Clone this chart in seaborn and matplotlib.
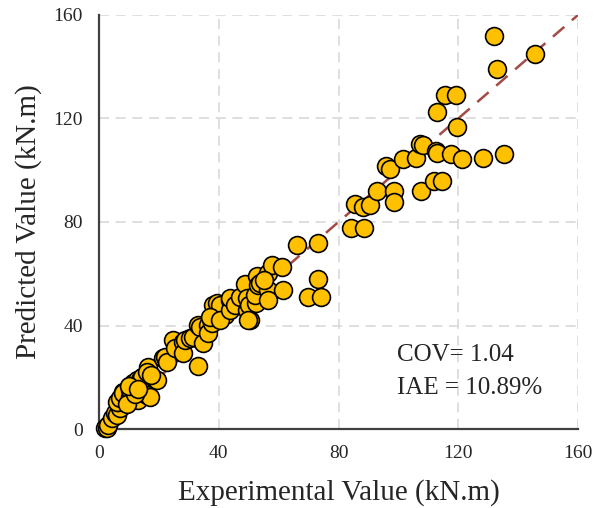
import matplotlib
matplotlib.use("Agg")
import matplotlib.pyplot as plt
import seaborn as sns
import pandas as pd

# Experimental vs predicted moment capacity (kN.m)
experimental = [
    2.0, 2.6, 3.0, 4.2, 5.3, 5.9, 7.0, 6.4, 5.9, 7.0, 8.1, 8.1, 10.4, 10.4,
    11.5, 11.5, 12.6, 13.1, 13.7, 14.3, 14.3, 15.4, 15.9, 16.5, 17.0, 18.7,
    19.3, 9.5, 12.0, 16.0, 10.0, 13.0, 17.5,
    21.5, 22.0, 22.6, 24.8, 25.4, 28.2, 28.2, 28.7, 30.4, 31.5, 33.2, 33.2,
    33.7, 34.8, 36.5, 36.5, 37.6, 38.7, 38.2, 39.3, 41.5, 42.1, 40.4, 37.1,
    40.4, 43.8, 43.8, 43.8, 45.5, 47.0,
    48.8, 49.3, 49.3, 50.4, 50.2, 52.4, 52.1, 52.7, 53.2, 53.8, 56.5, 56.5,
    56.5, 57.7, 61.0, 61.6, 49.9, 55.0,
    66.0, 73.3, 73.0, 69.8, 74.0, 84.1, 88.5, 85.4, 88.3, 90.6, 93.0, 95.7,
    97.2, 98.5, 98.5, 101.4, 105.9, 107.1, 108.2, 107.6, 112.0, 114.6, 112.7,
    113.0, 117.7, 121.1, 128.1, 135.3, 112.8, 115.6, 119.2, 119.6, 131.9,
    145.6, 133.1,
]
predicted = [
    0.5, 0.3, 1.5, 4.1, 6.1, 5.4, 8.0, 10.6, 10.6, 11.9, 14.4, 13.8, 12.5, 15.1,
    16.3, 17.7, 18.9, 11.2, 18.9, 17.0, 20.2, 14.4, 13.1, 24.1, 12.5, 19.5,
    18.9, 9.5, 13.5, 22.0, 16.5, 15.5, 21.0,
    27.3, 27.9, 26.0, 34.4, 31.2, 33.8, 29.3, 34.4, 35.1, 35.7, 24.5, 40.2,
    39.5, 33.1, 40.2, 37.0, 40.8, 43.4, 47.9, 48.6, 47.3, 44.1, 47.9, 43.4,
    42.1, 49.9, 46.0, 50.5, 48.0, 51.0,
    55.9, 50.5, 46.0, 42.1, 47.9, 48.6, 51.8, 59.1, 55.7, 56.3, 60.2, 53.7,
    49.9, 63.4, 62.7, 53.7, 42.1, 57.5,
    71.0, 72.0, 57.9, 50.9, 50.9, 77.8, 77.8, 87.0, 85.7, 86.6, 92.0, 101.6,
    100.4, 92.0, 87.6, 104.2, 104.8, 110.0, 109.7, 91.9, 95.9, 95.9, 107.3,
    106.5, 106.1, 104.3, 104.6, 106.3, 122.5, 129.0, 129.0, 116.8, 151.7,
    144.8, 139.3,
]
ideal_line = [0, 160]
ticks = [0, 40, 80, 120, 160]
cov_text = "COV= 1.04"
iae_text = "IAE = 10.89%"

df = pd.DataFrame({"Experimental": experimental, "Predicted": predicted})
ref = pd.DataFrame({"x": ideal_line, "y": ideal_line})

sns.set_style("white")
plt.rcParams["font.family"] = ["Liberation Serif", "DejaVu Serif"]

fig = plt.figure(figsize=(6.06, 5.08), dpi=100)
ax = fig.add_axes([0.1634, 0.1555, 0.7904, 0.815])

ax.grid(True, color="#D9D9D9", linestyle=(0, (6, 4)), linewidth=1.2, zorder=0)
ax.set_axisbelow(True)

sns.lineplot(data=ref, x="x", y="y", ax=ax, color="#A34A45",
             linestyle=(0, (6, 4)), linewidth=1.8, zorder=2)
sns.scatterplot(data=df, x="Experimental", y="Predicted", ax=ax,
                color="#FFC000", edgecolor="black", linewidth=1.2,
                s=165, zorder=3, clip_on=False)

ax.set_xlim(0, 160)
ax.set_ylim(0, 160)
ax.set_xticks(ticks)
ax.set_yticks(ticks)
ax.tick_params(axis="both", direction="inout", length=11, width=1.3,
               color="#404040", labelsize=14, pad=6)
for side in ("top", "right"):
    ax.spines[side].set_visible(False)
for side in ("left", "bottom"):
    ax.spines[side].set_color("#404040")
    ax.spines[side].set_linewidth(1.6)

ax.set_xlabel("Experimental Value (kN.m)", fontsize=21, labelpad=12)
ax.set_ylabel("Predicted Value (kN.m)", fontsize=21, labelpad=8)

ax.text(99.5, 28.6, cov_text, fontsize=18, va="center", ha="left")
ax.text(99.5, 15.8, iae_text, fontsize=18, va="center", ha="left")

fig.savefig("out.png", dpi=100)
